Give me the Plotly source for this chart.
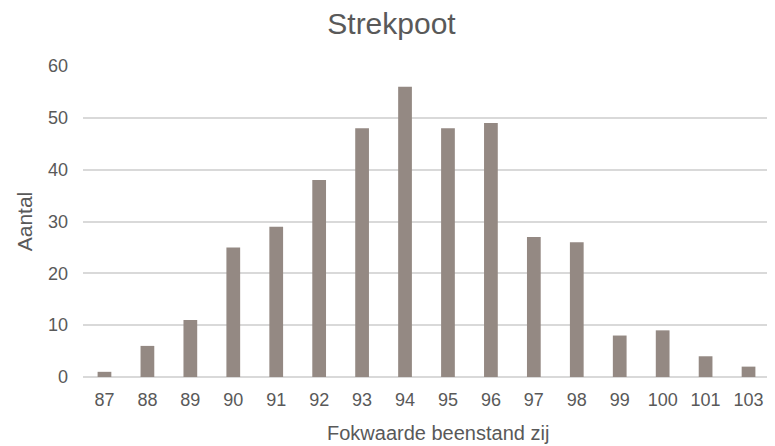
import plotly.graph_objects as go

categories = ["87", "88", "89", "90", "91", "92", "93", "94", "95", "96", "97", "98", "99", "100", "101", "103"]
counts = [1, 6, 11, 25, 29, 38, 48, 56, 48, 49, 27, 26, 8, 9, 4, 2]
y_ticks = [0, 10, 20, 30, 40, 50, 60]

font_family = "Liberation Sans, Arial, sans-serif"
text_color = "#595959"

fig = go.Figure(go.Bar(x=categories, y=counts, marker=dict(color="#948983", line=dict(width=0)), width=0.32))

W, H = 767, 438  # page body has an 8px margin
fig.update_layout(
    width=W, height=H,
    paper_bgcolor="white", plot_bgcolor="white",
    margin=dict(l=75, r=5, t=58, b=69, autoexpand=False),
    title=dict(text="Strekpoot", x=0.5, xref="container", xanchor="center", y=1 - 15 / H, yanchor="middle",
               font=dict(family=font_family, size=30, color=text_color)),
    font=dict(family=font_family, color=text_color),
    showlegend=False,
)
fig.update_xaxes(
    type="category", showgrid=False, showline=False, zeroline=False, ticks="",
    ticklabelstandoff=10,
    tickfont=dict(size=18, color=text_color),
)
fig.add_annotation(
    text="Fokwaarde beenstand zij", xref="paper", yref="paper",
    x=(438 - 8 - 75) / (W - 80), y=-(425 - 369) / (H - 127),
    xanchor="center", yanchor="middle", showarrow=False,
    font=dict(family=font_family, size=20, color=text_color),
)
fig.update_yaxes(
    range=[0, 60], tickvals=y_ticks, showgrid=True, gridcolor="#d9d9d9", gridwidth=1.5,
    zeroline=True, zerolinecolor="#d9d9d9", zerolinewidth=1.5, showline=False, ticks="",
    ticklabelstandoff=14,
    tickfont=dict(size=18, color=text_color),
    title=dict(text="Aantal", font=dict(size=21, color=text_color), standoff=9),
)

fig.write_html("out.html")
